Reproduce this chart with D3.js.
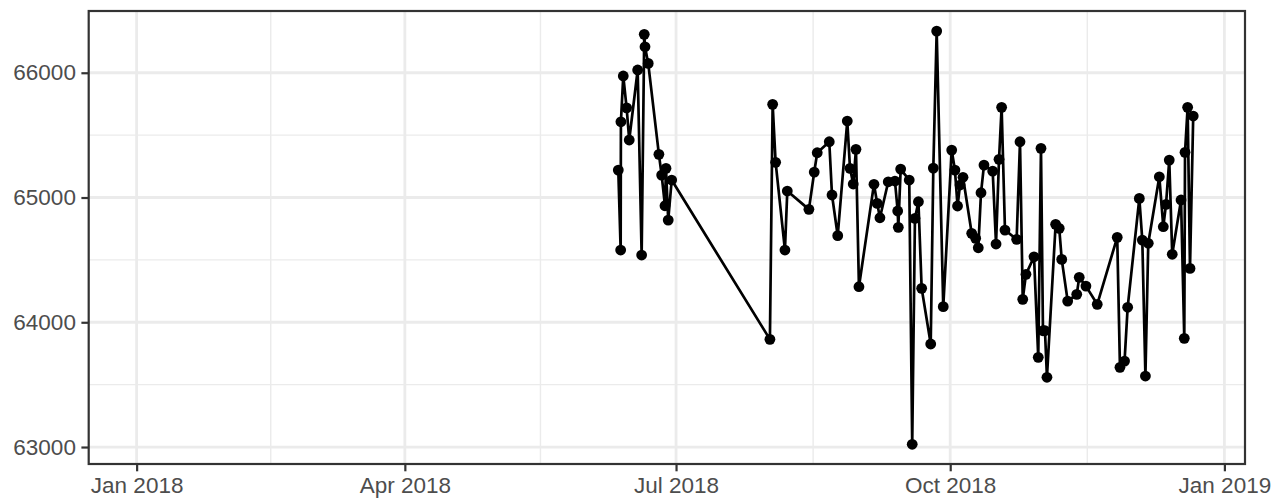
<!DOCTYPE html>
<html><head><meta charset="utf-8">
<script src="https://cdn.jsdelivr.net/npm/d3@7"></script>
<style>body{margin:0;background:#fff} svg{display:block}</style>
</head><body><svg id="chart" width="1272" height="503"></svg>
<script>
// ---- data ----
const dates = [
  "2018-06-11 15","2018-06-12 10","2018-06-12 12","2018-06-13 07","2018-06-14 10","2018-06-15 07",
  "2018-06-18 03","2018-06-19 11","2018-06-20 08","2018-06-20 14","2018-06-21 16","2018-06-25 06",
  "2018-06-26 04","2018-06-27 07","2018-06-27 15","2018-06-28 09","2018-06-29 13",
  "2018-08-01 12","2018-08-02 10","2018-08-03 10","2018-08-06 13","2018-08-07 08","2018-08-14 14",
  "2018-08-16 09","2018-08-17 09","2018-08-21 10","2018-08-22 08","2018-08-24 06","2018-08-27 11",
  "2018-08-28 09","2018-08-29 11","2018-08-30 09","2018-08-31 09",
  "2018-09-05 10","2018-09-06 12","2018-09-07 10","2018-09-10 05","2018-09-12 11","2018-09-13 09",
  "2018-09-13 14","2018-09-14 09","2018-09-17 06","2018-09-18 06","2018-09-19 04","2018-09-20 08",
  "2018-09-21 10","2018-09-24 11","2018-09-25 08","2018-09-26 11","2018-09-28 16",
  "2018-10-01 12","2018-10-02 14","2018-10-03 11","2018-10-04 07","2018-10-05 07","2018-10-08 05",
  "2018-10-09 13","2018-10-10 10","2018-10-11 08","2018-10-12 08","2018-10-15 06","2018-10-16 09",
  "2018-10-17 09","2018-10-18 06","2018-10-19 09","2018-10-23 07","2018-10-24 10","2018-10-25 08",
  "2018-10-26 10","2018-10-29 03","2018-10-30 13","2018-10-31 11",
  "2018-11-01 03","2018-11-01 19","2018-11-02 11","2018-11-05 09","2018-11-06 14","2018-11-07 10",
  "2018-11-09 10","2018-11-12 11","2018-11-13 07","2018-11-15 13","2018-11-19 08","2018-11-26 01",
  "2018-11-26 23","2018-11-28 12","2018-11-29 13",
  "2018-12-03 11","2018-12-04 11","2018-12-05 12","2018-12-06 11","2018-12-10 04","2018-12-11 12",
  "2018-12-12 10","2018-12-13 12","2018-12-14 12","2018-12-17 11","2018-12-18 13","2018-12-18 19",
  "2018-12-19 16","2018-12-20 11","2018-12-21 13"
];
const values = [
  65220,64579,65607,65974,65719,65461,
  66022,64539,66308,66208,66075,65346,
  65180,64934,65234,64819,65140,
  63863,65747,65282,64579,65052,64905,
  65204,65359,65447,65020,64694,65613,
  65234,65108,65386,64285,
  65106,64953,64838,65126,65132,64892,
  64761,65228,65140,63022,64833,64966,
  64272,63826,65236,66334,64125,
  65380,65220,64932,65100,65162,64713,
  64673,64597,65038,65260,65212,64627,
  65306,65723,64739,64665,65447,64184,
  64384,64525,63719,65394,
  63932,63932,63559,64785,64753,64504,
  64170,64224,64360,64290,64144,64681,
  63639,63689,64120,
  64993,64659,63569,64633,65166,64766,
  64945,65300,64545,64980,63871,65362,
  65723,64432,65653
];
const xDomain = ["2017-12-15 22", "2019-01-07 22"];
const yDomain = [62864, 66495];
const xTickDates = ["2018-01-01 00","2018-04-01 00","2018-07-01 00","2018-10-01 00","2019-01-01 00"];
const yTickValues = [63000, 64000, 65000, 66000];
const yMinorValues = [63500, 64500, 65500];

// ---- drawing ----
const parse = d3.utcParse("%Y-%m-%d %H");
const data = dates.map((d, i) => ({date: parse(d), value: values[i]}));
const xTicks = xTickDates.map(parse);
const xMinor = d3.pairs(xTicks).map(([a, b]) => new Date((+a + +b) / 2));

const W = 1272, H = 503;
const m = {left: 88.7, right: 27, top: 11, bottom: 39};
const svg = d3.select("#chart");

const x = d3.scaleUtc().domain(xDomain.map(parse)).range([m.left, W - m.right]);
const y = d3.scaleLinear().domain(yDomain).range([H - m.bottom, m.top]);

const gridCol = "#EBEBEB";
const g = svg.append("g");

// minor grid
g.selectAll(".vminor").data(xMinor).join("line")
  .attr("x1", d => x(d)).attr("x2", d => x(d))
  .attr("y1", m.top).attr("y2", H - m.bottom)
  .attr("stroke", gridCol).attr("stroke-width", 1.4);
g.selectAll(".hminor").data(yMinorValues).join("line")
  .attr("y1", d => y(d)).attr("y2", d => y(d))
  .attr("x1", m.left).attr("x2", W - m.right)
  .attr("stroke", gridCol).attr("stroke-width", 1.4);
// major grid
g.selectAll(".vmajor").data(xTicks).join("line")
  .attr("x1", d => x(d)).attr("x2", d => x(d))
  .attr("y1", m.top).attr("y2", H - m.bottom)
  .attr("stroke", gridCol).attr("stroke-width", 2.8);
g.selectAll(".hmajor").data(yTickValues).join("line")
  .attr("y1", d => y(d)).attr("y2", d => y(d))
  .attr("x1", m.left).attr("x2", W - m.right)
  .attr("stroke", gridCol).attr("stroke-width", 2.8);

// line + points
const line = d3.line().x(d => x(d.date)).y(d => y(d.value));
svg.append("path").datum(data)
  .attr("d", line).attr("fill", "none")
  .attr("stroke", "#000").attr("stroke-width", 2.7).attr("stroke-linejoin", "round");
svg.append("g").selectAll("circle").data(data).join("circle")
  .attr("cx", d => x(d.date)).attr("cy", d => y(d.value))
  .attr("r", 5.4).attr("fill", "#000");

// border
svg.append("rect")
  .attr("x", m.left).attr("y", m.top)
  .attr("width", W - m.right - m.left).attr("height", H - m.bottom - m.top)
  .attr("fill", "none").attr("stroke", "#333333").attr("stroke-width", 2.2);

// axes
const font = "'Liberation Sans', Arial, sans-serif";
const xAxis = d3.axisBottom(x).tickValues(xTicks).tickFormat(d3.utcFormat("%b %Y"))
  .tickSize(7.3).tickPadding(5);
const yAxis = d3.axisLeft(y).tickValues(yTickValues).tickFormat(d3.format("d"))
  .tickSize(7.3).tickPadding(5.5);

const gx = svg.append("g").attr("transform", `translate(0,${H - m.bottom})`).call(xAxis);
const gy = svg.append("g").attr("transform", `translate(${m.left},0)`).call(yAxis);
[gx, gy].forEach(a => {
  a.select(".domain").remove();
  a.selectAll(".tick line").attr("stroke", "#333333").attr("stroke-width", 2.2);
  a.selectAll(".tick text").attr("fill", "#4D4D4D")
    .style("font-family", font).style("font-size", "22.5px");
});
gx.selectAll(".tick text").attr("dy", "0.76em");
</script>
</body></html>
